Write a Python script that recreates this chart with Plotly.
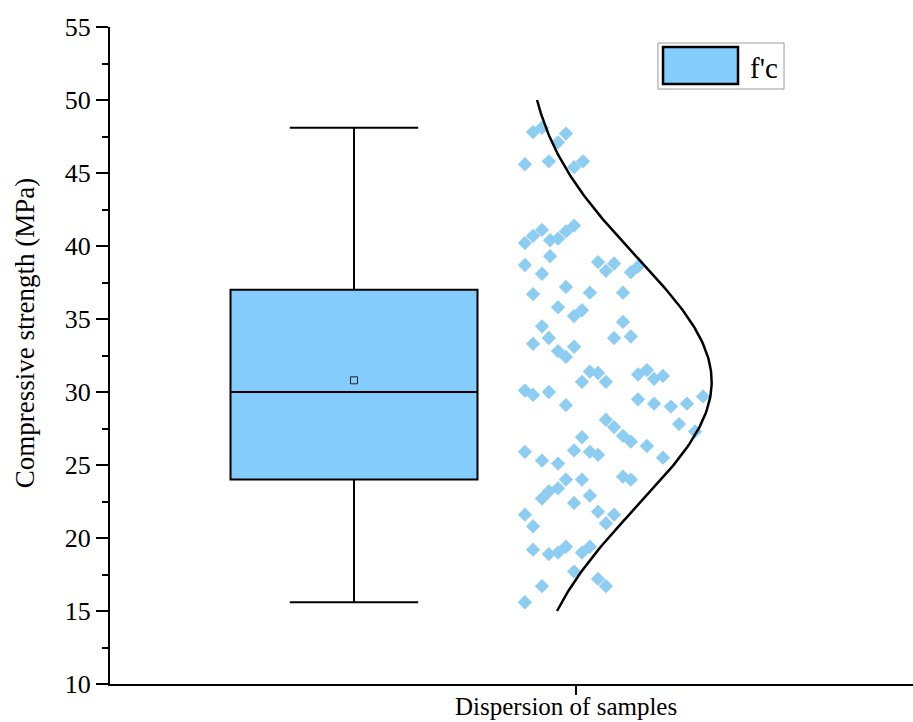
import plotly.graph_objects as go
import numpy as np

# ---- data ----
box_x = 1.0
box_q1 = 24.0
box_median = 30.0
box_q3 = 37.0
box_lower = 15.6
box_upper = 48.1
box_mean = 30.8

sample_x = [1.725, 1.761, 1.826, 1.858, 1.692, 1.789, 1.891, 1.927, 1.692, 1.725,
            1.761, 1.794, 1.826, 1.858, 1.891, 1.692, 1.794, 1.761, 1.988, 2.020,
            2.053, 2.121, 2.150, 1.725, 1.858, 1.955, 2.089, 1.826, 1.923, 1.891,
            2.089, 1.761, 1.789, 1.725, 1.891, 1.826, 1.858, 2.053, 2.121, 1.955,
            1.988, 1.923, 2.020, 2.150, 2.186, 2.215, 2.251, 1.692, 1.725, 1.789,
            1.858, 2.150, 2.215, 2.283, 2.348, 2.413, 2.020, 2.053, 2.089, 2.121,
            2.186, 2.316, 2.381, 1.923, 1.692, 1.891, 1.955, 1.988, 1.761, 1.826,
            2.251, 1.858, 1.923, 2.089, 2.121, 1.789, 1.826, 1.761, 1.955, 1.891,
            1.692, 1.725, 1.988, 2.053, 2.020, 1.725, 1.789, 1.826, 1.858, 1.923,
            1.955, 1.891, 1.761, 1.988, 2.020, 1.692]
sample_y = [47.8, 48.1, 47.1, 47.7, 45.6, 45.8, 45.4, 45.8, 40.2, 40.7,
            41.1, 40.4, 40.5, 41.0, 41.4, 38.7, 39.3, 38.1, 38.9, 38.3,
            38.8, 38.2, 38.6, 36.7, 37.2, 36.8, 36.8, 35.8, 35.6, 35.2,
            34.8, 34.5, 33.7, 33.3, 33.1, 32.8, 32.4, 33.7, 33.8, 31.4,
            31.3, 30.7, 30.7, 31.2, 31.5, 30.9, 31.1, 30.1, 29.8, 30.0,
            29.1, 29.5, 29.2, 29.0, 29.2, 29.7, 28.1, 27.6, 27.0, 26.6,
            26.3, 27.8, 27.3, 26.9, 25.9, 26.0, 25.9, 25.7, 25.3, 25.1,
            25.5, 24.0, 24.0, 24.2, 24.0, 23.2, 23.4, 22.7, 22.9, 22.4,
            21.6, 20.8, 21.8, 21.6, 21.0, 19.2, 18.9, 19.0, 19.4, 19.0,
            19.4, 17.7, 16.7, 17.2, 16.7, 15.6]

# normal-distribution curve parameters (fitted to the samples)
curve_mean = 30.7
curve_sd = 8.5
curve_base_x = 1.683
curve_amplitude = 0.765
curve_y_min = 15.0
curve_y_max = 50.0

y_tick_vals = [10, 15, 20, 25, 30, 35, 40, 45, 50, 55]
x_tick_vals = [1.90]
x_tick_text = ["Dispersion of samples"]
legend_label = "f'c"
y_title = "Compressive strength (MPa)"

# ---- figure ----
FONT = "Liberation Serif, Times New Roman, serif"
box_color = "#84CCFB"
pt_color = "#8ECDF2"

fig = go.Figure()

fig.add_trace(go.Box(
    x=[box_x], q1=[box_q1], median=[box_median], q3=[box_q3],
    lowerfence=[box_lower], upperfence=[box_upper],
    width=1.0, whiskerwidth=0.52,
    fillcolor=box_color, line=dict(color="black", width=2),
    name=legend_label, showlegend=False, hoverinfo="y",
))

fig.add_trace(go.Scatter(
    x=[box_x], y=[box_mean], mode="markers",
    marker=dict(symbol="square-open", size=7, color="#222222", line=dict(width=1)),
    showlegend=False, name="Mean",
))

fig.add_trace(go.Scatter(
    x=sample_x, y=sample_y, mode="markers",
    marker=dict(symbol="diamond", size=11, color=pt_color, line=dict(width=0)),
    showlegend=False, name="Samples",
))

cy = np.linspace(curve_y_min, curve_y_max, 200)
cx = curve_base_x + curve_amplitude * np.exp(-((cy - curve_mean) ** 2) / (2 * curve_sd ** 2))
fig.add_trace(go.Scatter(
    x=cx, y=cy, mode="lines", line=dict(color="black", width=2.5),
    showlegend=False, name="Normal curve",
))

# legend (drawn as a framed key with a wide box swatch)
fig.add_shape(type="rect", xref="paper", yref="paper",
              x0=0.6824, x1=0.8394, y0=0.9056, y1=0.9756,
              line=dict(color="#999999", width=1), fillcolor="white", layer="above")
fig.add_shape(type="rect", xref="paper", yref="paper",
              x0=0.6887, x1=0.7821, y0=0.9132, y1=0.9696,
              line=dict(color="black", width=2.5), fillcolor=box_color, layer="above")
fig.add_annotation(text=legend_label, xref="paper", yref="paper",
                   x=0.7945, y=0.9376, xanchor="left", yanchor="middle",
                   showarrow=False, font=dict(size=29, family=FONT, color="black"))

# axis titles
fig.add_annotation(text=y_title, xref="paper", yref="paper", x=0, y=0.534,
                   xanchor="center", yanchor="middle", xshift=-85, textangle=-90,
                   showarrow=False, font=dict(size=27, family=FONT, color="black"))
fig.add_annotation(text=x_tick_text[0], xref="x", yref="paper", x=x_tick_vals[0], y=0,
                   xanchor="center", yanchor="top", xshift=-10, yshift=-7,
                   showarrow=False, font=dict(size=25, family=FONT, color="black"))

fig.update_layout(
    width=913, height=722,
    margin=dict(l=110, r=0, t=27, b=38),
    paper_bgcolor="white", plot_bgcolor="white",
    font=dict(family=FONT, color="black", size=25),
    showlegend=False,
    xaxis=dict(
        range=[0.0121, 3.2632], showgrid=False, zeroline=False, automargin=False,
        showline=True, linecolor="black", linewidth=2,
        ticks="outside", ticklen=9, tickwidth=2, tickcolor="black",
        tickvals=x_tick_vals, ticktext=[""],
    ),
    yaxis=dict(
        range=[10, 55], showgrid=False, zeroline=False, automargin=False,
        showline=True, linecolor="black", linewidth=2,
        ticks="outside", ticklen=12, tickwidth=2, tickcolor="black",
        tickvals=y_tick_vals, tickfont=dict(size=26, family=FONT),
        minor=dict(ticks="outside", ticklen=6, tickwidth=1.5, tickcolor="black", dtick=2.5),
    ),
)

fig.write_html(
    "out.html",
    config={"displayModeBar": False},
    post_script="document.body.style.margin='0';document.body.style.overflow='hidden';",
)
